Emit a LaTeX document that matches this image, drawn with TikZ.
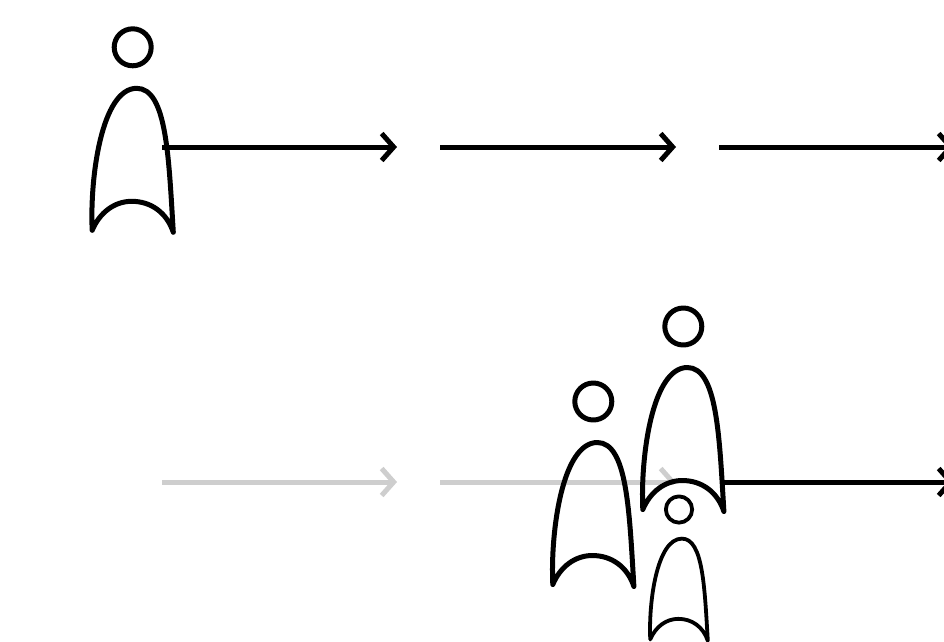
\documentclass[tikz,border=0pt]{standalone}
\usetikzlibrary{arrows.meta}
\definecolor{fadedgray}{HTML}{CECECE}
\tikzset{
  x=1pt,y=-1pt,
  flow/.style={line width=5pt,-{Straight Barb[length=12pt,width=27pt,line width=5pt]}},
  flowon/.style={flow,black},
  flowoff/.style={flow,fadedgray},
  figline/.style={line width=#1,line join=round,line cap=round,black},
  pics/personfig/.style={code={
    \draw[figline=#1] (0,0) circle[radius=18.5];
    \draw[figline=#1,fill=none] (-40.5,183)
      .. controls (-43,130) and (-31,41) .. (4,41)
      .. controls (34,41) and (36,110) .. (40.6,185)
      .. controls (34,165) and (18,154) .. (-1,154)
      .. controls (-18,154) and (-33,165) .. (-40.5,183);
  }}
}
\begin{document}
\begin{tikzpicture}
\useasboundingbox (0,0) rectangle (944,641);
\clip (0,0) rectangle (944,641);
\fill[white] (0,0) rectangle (944,641);
% row 1 end points
\coordinate (a1) at (162,147); \coordinate (a2) at (397,147);
\coordinate (b1) at (440,147); \coordinate (b2) at (676,147);
\coordinate (c1) at (719,147); \coordinate (c2) at (954,147);
% row 2 end points
\coordinate (d1) at (162,482); \coordinate (d2) at (397,482);
\coordinate (e1) at (440,482); \coordinate (e2) at (676,482);
\coordinate (f1) at (720,482); \coordinate (f2) at (954,482);
\draw[flowoff] (d1) -- (d2);
\draw[flowoff] (e1) -- (e2);
% white ground of the small figure hides the lower barb
\fill[white] (640,485) rectangle (690,500);
\pic at (132.7,47.3) {personfig=5pt};
\pic at (593.3,401.5) {personfig=5pt};
\pic at (683.3,326.5) {personfig=5pt};
\pic[scale=.71] at (679,509.5) {personfig=3.8pt};
\draw[flowon] (a1) -- (a2);
\draw[flowon] (b1) -- (b2);
\draw[flowon] (c1) -- (c2);
\draw[flowon] (f1) -- (f2);
\end{tikzpicture}
\end{document}
